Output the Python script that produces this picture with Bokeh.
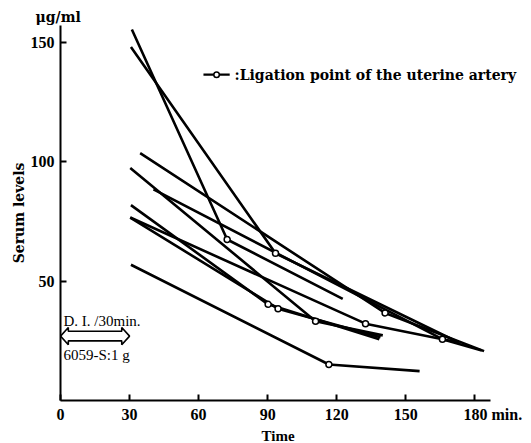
from bokeh.plotting import figure
from bokeh.models import Range1d, FixedTicker, Label, Title
from bokeh.embed import file_html
from bokeh.resources import INLINE

# ---- data ----
time_ticks = [0, 30, 60, 90, 120, 150, 180]
level_ticks = [50, 100, 150]

# each case: start of measurement, ligation point of the uterine artery, last value
start_t  = [31.0, 30.6, 34.6, 30.3, 40.4, 30.6, 30.3, 30.3, 30.6]
start_lv = [155.5, 148.2, 103.7, 97.5, 88.5, 81.9, 76.7, 76.7, 56.9]
lig_t    = [72.4, 93.4, 141.0, 110.8, 165.9, 90.2, 132.5, 94.5, 116.6]
lig_lv   = [67.5, 61.7, 36.7, 33.2, 25.7, 40.3, 32.2, 38.5, 15.1]
end_t    = [122.6, 173.0, 184.0, 140.0, 183.0, 138.5, 173.0, 139.0, 156.0]
end_lv   = [42.6, 24.3, 20.7, 27.3, 21.0, 25.7, 24.3, 26.5, 12.3]

# drip infusion window (min)
infusion = [0, 30]

FONT = "Liberation Serif"
FONT2 = "DejaVu Serif"
NB = "\u00a0"

p = figure(width=531, height=443,
           x_range=Range1d(0, 204.6), y_range=Range1d(0, 157.2),
           output_backend="svg", toolbar_location=None,
           min_border_left=60, min_border_right=0,
           min_border_top=25, min_border_bottom=42)
p.outline_line_color = None
p.grid.visible = False
p.background_fill_color = "white"
p.border_fill_color = "white"

# axes
p.xaxis.ticker = FixedTicker(ticks=time_ticks)
p.yaxis.ticker = FixedTicker(ticks=level_ticks)
p.xaxis.bounds = (0, 187.0)
for ax in (p.xaxis[0], p.yaxis[0]):
    ax.axis_line_width = 2
    ax.axis_line_color = "black"
    ax.major_tick_in = 6
    ax.major_tick_out = 0
    ax.major_tick_line_width = 2
    ax.minor_tick_line_color = None
    ax.major_label_text_font = FONT
    ax.major_label_text_font_style = "bold"
    ax.major_label_text_font_size = "16px"
    ax.major_label_text_color = "black"
p.xaxis.major_label_standoff = 5
p.xaxis.major_label_overrides = {180: NB * 9 + "180" + NB + "min."}
p.yaxis.major_label_standoff = 6
p.yaxis.axis_label = "Serum levels"
p.yaxis.axis_label_text_font = FONT2
p.yaxis.axis_label_text_font_style = "bold"
p.yaxis.axis_label_text_font_size = "14px"
p.yaxis.axis_label_text_color = "black"
p.yaxis.axis_label_standoff = 1

# titles used as outside texts
p.add_layout(Title(text="\u03bcg/ml", align="left", offset=-25, standoff=1,
                   text_font=FONT2, text_font_style="bold", text_font_size="14px",
                   text_color="black"), "above")
p.add_layout(Title(text="Time", align="left", offset=201, standoff=0,
                   text_font=FONT, text_font_style="bold", text_font_size="15px",
                   text_color="black"), "below")

# serum level curves: start -> ligation -> end
xs = [[a, b, c] for a, b, c in zip(start_t, lig_t, end_t)]
ys = [[a, b, c] for a, b, c in zip(start_lv, lig_lv, end_lv)]
p.multi_line(xs=xs, ys=ys, line_color="black", line_width=2.6)
p.scatter(x=lig_t, y=lig_lv, size=6, marker="circle", fill_color="white",
          line_color="black", line_width=1.5)

# legend sample
leg_y = 136.6
p.line(x=[62.1, 73.5], y=[leg_y, leg_y], line_color="black", line_width=2.2)
p.scatter(x=[67.8], y=[leg_y], size=5.5, marker="circle", fill_color="white",
          line_color="black", line_width=1.5)
p.add_layout(Label(x=75.6, y=leg_y, text=":Ligation point of the uterine artery",
                   text_font=FONT2, text_font_style="bold", text_font_size="14px",
                   text_baseline="middle", text_align="left", text_color="black"))

# infusion double arrow (hollow)
x0, x1 = infusion
ay, hl, hh, sh = 27.0, 3.4, 3.6, 2.0
ax_ = [x0, x0 + hl, x0 + hl, x1 - hl, x1 - hl, x1, x1 - hl, x1 - hl, x0 + hl, x0 + hl]
ay_ = [ay, ay + hh, ay + sh, ay + sh, ay + hh, ay, ay - hh, ay - sh, ay - sh, ay - hh]
p.patch(x=ax_, y=ay_, fill_color="white", line_color="black", line_width=1.6)
p.add_layout(Label(x=1.3, y=33.2, text="D. I. /30min.", text_font=FONT,
                   text_font_size="15px", text_baseline="middle", text_color="black"))
p.add_layout(Label(x=1.3, y=19.2, text="6059-S:1  g", text_font=FONT,
                   text_font_size="15px", text_baseline="middle", text_color="black"))

open("out.html", "w").write(file_html(p, INLINE))
